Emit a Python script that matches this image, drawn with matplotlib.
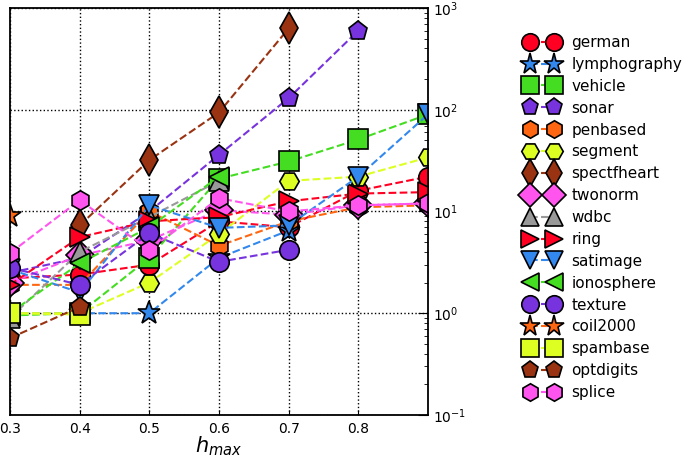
import numpy as np
import matplotlib
matplotlib.use('Agg')
import matplotlib.pyplot as plt

nan = np.nan

h_max = [0.3, 0.4, 0.5, 0.6, 0.7, 0.8, 0.9]

names = ['german', 'lymphography', 'vehicle', 'sonar', 'penbased', 'segment',
         'spectfheart', 'twonorm', 'wdbc', 'ring', 'satimage', 'ionosphere',
         'texture', 'coil2000', 'spambase', 'optdigits', 'splice']

german = [2.2, 2.4, 3.0, 8.0, 7.0, 16.0, 22.0]
lymphography = [1.0, 1.0, 1.0, 3.5, 6.5, nan, nan]
vehicle = [0.95, 1.0, 3.5, 21.0, 31.0, 51.0, 90.0]
sonar = [2.5, 3.5, 10.0, 36.0, 130.0, 600.0, nan]
penbased = [1.9, 1.9, 10.0, 4.6, 8.0, 11.0, 11.5]
segment = [1.0, 1.0, 2.0, 6.0, 20.0, 22.0, 34.0]
spectfheart = [nan, 7.3, 32.0, 94.0, 630.0, nan, nan]
twonorm = [2.0, 3.7, 5.2, 10.3, 9.3, 11.5, 12.0]
wdbc = [0.9, 4.0, 8.8, 20.0, nan, nan, nan]
ring = [1.9, 5.6, 8.0, 8.8, 12.6, 15.0, 15.5]
satimage = [2.7, 1.6, 11.5, 6.9, 7.3, 22.0, 90.0]
ionosphere = [1.0, 3.1, 7.0, 22.0, nan, nan, nan]
texture = [2.8, 1.9, 6.1, 3.2, 4.2, nan, nan]
coil2000 = [9.0, nan, nan, nan, nan, nan, nan]
spambase = [1.0, 0.97, nan, nan, nan, nan, nan]
optdigits = [0.57, 1.15, nan, nan, nan, nan, nan]
splice = [3.9, 12.9, 4.2, 13.5, 10.0, 11.5, 12.0]

series = [german, lymphography, vehicle, sonar, penbased, segment,
          spectfheart, twonorm, wdbc, ring, satimage, ionosphere,
          texture, coil2000, spambase, optdigits, splice]

colors = ['#ff0022', '#3388ee', '#44dd22', '#7733dd', '#ff6611', '#ddff22',
          '#993311', '#ff55ee', '#999999']
markers = ['o', '*', 's', 'p', 'h', 'H', 'd', 'D', '^', '>', 'v', '<']

fig = plt.figure(figsize=(6.85, 4.58), dpi=100)
ax = fig.add_axes([0.0146, 0.094, 0.6102, 0.8885])

for i, (name, vals) in enumerate(zip(names, series)):
    c = colors[i % len(colors)]
    m = markers[i % len(markers)]
    ms = 14
    if m == '*':
        ms = 17
    elif m == 'd':
        ms = 16
    ax.plot(h_max, vals, linestyle='--', color=c, marker=m, markersize=ms,
            markerfacecolor=c, markeredgecolor='black', markeredgewidth=1.2,
            linewidth=1.5, label=name)

ax.set_yscale('log')
ax.set_xlim(0.3, 0.9)
ax.set_ylim(0.1, 1000)
ax.set_xticks([0.3, 0.4, 0.5, 0.6, 0.7, 0.8])
ax.set_xticklabels(['0.3', '0.4', '0.5', '0.6', '0.7', '0.8'])
ax.yaxis.tick_right()
ax.tick_params(axis='both', which='both', direction='in', labelsize=10)
ax.tick_params(axis='x', pad=5)
ax.tick_params(axis='y', which='major', length=7)
ax.tick_params(axis='y', which='minor', length=3)
ax.grid(True, which='major', linestyle=':', color='black', linewidth=1.0)
for s in ax.spines.values():
    s.set_linewidth(1.3)
ax.set_xlabel('$h_{max}$', fontsize=15, labelpad=-1)

ax.legend(loc='center left', bbox_to_anchor=(1.2, 0.485), numpoints=2,
          frameon=False, fontsize=11, labelspacing=0.45, handlelength=2.2,
          handletextpad=0.8, markerscale=0.9)

fig.savefig('out.png', dpi=100)
